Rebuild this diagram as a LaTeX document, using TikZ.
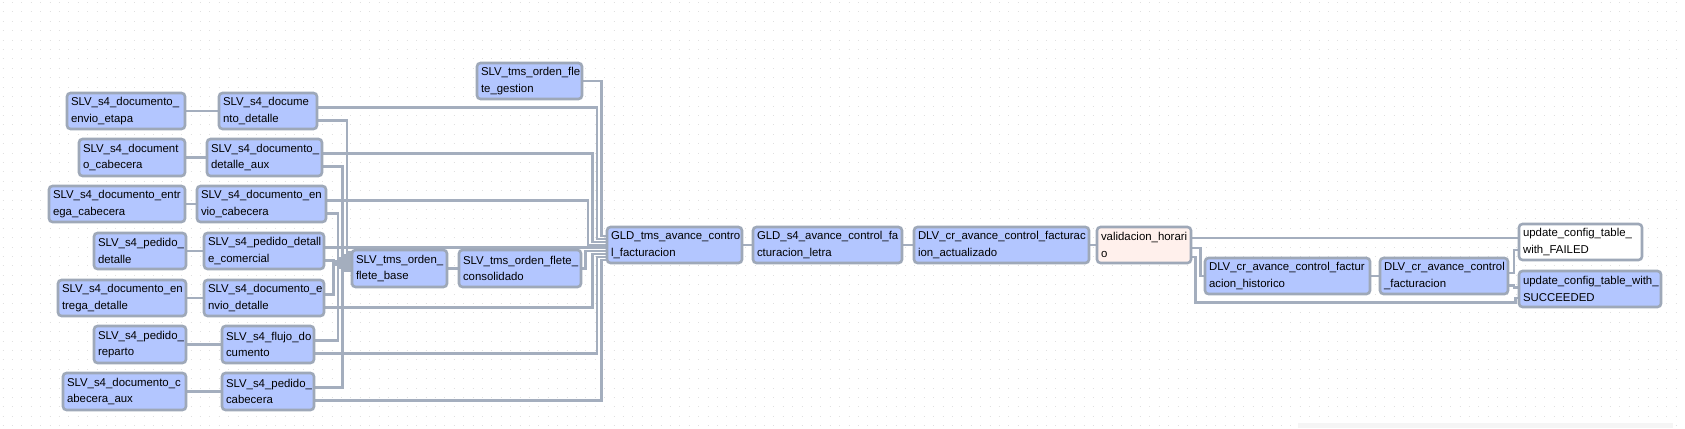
\documentclass[tikz,border=0pt]{standalone}
\usepackage{fontspec}
\setmainfont{Liberation Sans}
\usetikzlibrary{backgrounds}
\definecolor{boxblue}{RGB}{179,198,255}
\definecolor{boxpink}{RGB}{255,240,236}
\definecolor{boxborder}{RGB}{158,168,184}
\definecolor{edgecol}{RGB}{164,174,190}
\definecolor{dotcol}{RGB}{224,224,224}
\definecolor{barcol}{RGB}{245,245,245}
\hyphenpenalty=10000
\exhyphenpenalty=10000
\newcommand{\mkbox}[7][blk]{%
  \pgfmathsetmacro{\mkbw}{#5-#3}%
  \pgfmathsetmacro{\mkbh}{#6-#4}%
  \pgfmathsetmacro{\mktw}{#5-#3-8}%
  \node[#1, minimum width=\mkbw pt, minimum height=\mkbh pt, text width=\mktw pt, anchor=north west] (#2) at (#3,#4) {#7};%
}
\begin{document}
\begin{tikzpicture}[x=1pt,y=-1pt,
  blk/.style={draw=boxborder, line width=2.6pt, fill=boxblue, rounded corners=3.5pt,
    inner sep=0pt, outer sep=0pt, align=left,
    font=\fontsize{11.4}{16.5}\selectfont},
  pinkblk/.style={blk, fill=boxpink},
  whiteblk/.style={blk, fill=white},
  edge/.style={draw=edgecol, line width=2.1pt}]
\useasboundingbox (0,0) rectangle (1685,428);

% nodes
\mkbox{eet}{67}{93}{185}{129}{SLV\_s4\_documento\_\\envio\_etapa}
\mkbox{dd}{219}{93}{317}{129}{SLV\_s4\_docume\\nto\_detalle}
\mkbox{gest}{477}{63}{582}{99}{SLV\_tms\_orden\_fle\\te\_gestion}
\mkbox{dcab}{79}{139}{185}{176}{SLV\_s4\_document\\o\_cabecera}
\mkbox{aux}{207}{139}{322}{176}{SLV\_s4\_documento\_\\detalle\_aux}
\mkbox{ecab}{49}{186}{185}{222}{SLV\_s4\_documento\_entr\\ega\_cabecera}
\mkbox{envcab}{197}{186}{326}{222}{SLV\_s4\_documento\_en\\vio\_cabecera}
\mkbox{pdet}{94}{233}{186}{269}{SLV\_s4\_pedido\_\\detalle}
\mkbox{pdc}{204}{233}{324}{269}{SLV\_s4\_pedido\_detall\\e\_comercial}
\mkbox{edet}{58}{280}{186}{316}{SLV\_s4\_documento\_en\\trega\_detalle}
\mkbox{envdet}{204}{280}{324}{316}{SLV\_s4\_documento\_e\\nvio\_detalle}
\mkbox{prep}{94}{326}{186}{363}{SLV\_s4\_pedido\_\\reparto}
\mkbox{flujo}{222}{326}{314}{363}{SLV\_s4\_flujo\_do\\cumento}
\mkbox{cabaux}{63}{373}{186}{410}{SLV\_s4\_documento\_c\\abecera\_aux}
\mkbox{pedcab}{222}{373}{314}{410}{SLV\_s4\_pedido\_\\cabecera}
\mkbox{base}{352}{250}{447}{287}{SLV\_tms\_orden\_\\flete\_base}
\mkbox{cons}{459}{250}{581}{287}{SLV\_tms\_orden\_flete\_\\consolidado}
\mkbox{gld}{607}{227}{742}{263}{GLD\_tms\_avance\_contro\\l\_facturacion}
\mkbox{gldf}{753}{227}{902}{263}{GLD\_s4\_avance\_control\_fa\\cturacion\_letra}
\mkbox{act}{914}{227}{1089}{263}{DLV\_cr\_avance\_control\_facturac\\ion\_actualizado}
\mkbox[pinkblk]{val}{1097}{227}{1191}{263}{validacion\_horari\\o}
\mkbox{hist}{1205}{258}{1370}{294}{DLV\_cr\_avance\_control\_factur\\acion\_historico}
\mkbox{dcr}{1380}{258}{1508}{294}{DLV\_cr\_avance\_control\\\_facturacion}
\mkbox[whiteblk]{fail}{1519}{224}{1642}{260}{update\_config\_table\_\\with\_FAILED}
\mkbox{succ}{1519}{271}{1661}{307}{update\_config\_table\_with\_\\SUCCEEDED}

% ports
\coordinate (ddU) at ([yshift=-14.5pt]dd.north east);
\coordinate (ddL) at ([yshift=-27.5pt]dd.north east);
\coordinate (auxU) at ([yshift=-14.5pt]aux.north east);
\coordinate (auxL) at ([yshift=-27.5pt]aux.north east);
\coordinate (envcabU) at ([yshift=-14.5pt]envcab.north east);
\coordinate (envcabL) at ([yshift=-27.5pt]envcab.north east);
\coordinate (pdcU) at ([yshift=-14.5pt]pdc.north east);
\coordinate (pdcL) at ([yshift=-27.5pt]pdc.north east);
\coordinate (envdetU) at ([yshift=-14.5pt]envdet.north east);
\coordinate (envdetL) at ([yshift=-27.5pt]envdet.north east);
\coordinate (flujoU) at ([yshift=-14.5pt]flujo.north east);
\coordinate (flujoL) at ([yshift=-27.5pt]flujo.north east);
\coordinate (pedcabU) at ([yshift=-14.5pt]pedcab.north east);
\coordinate (pedcabL) at ([yshift=-27.5pt]pedcab.north east);
\coordinate (valA) at ([yshift=-11pt]val.north east);
\coordinate (valB) at ([yshift=-20.7pt]val.north east);
\coordinate (valC) at ([yshift=-29.7pt]val.north east);
\coordinate (dcrU) at ([yshift=-14.7pt]dcr.north east);
\coordinate (dcrL) at ([yshift=-27.5pt]dcr.north east);

\begin{scope}[on background layer]
\fill[white] (0,0) rectangle (1685,428);
\foreach \k in {0,...,45}
  \draw[dotcol, line width=1pt, dash pattern=on 1pt off 8.4pt] (2.5,{2.6+9.4*\k}) -- (1685,{2.6+9.4*\k});
\fill[barcol] (1298,423) rectangle (1673,428);

% first column pairs
\draw[edge] (eet.east) -- (dd.west);
\draw[edge] (dcab.east) -- (aux.west);
\draw[edge] (ecab.east) -- (envcab.west);
\draw[edge] (pdet.east) -- (pdc.west);
\draw[edge] (edet.east) -- (envdet.west);
\draw[edge] (prep.east) -- (flujo.west);
\draw[edge] (cabaux.east) -- (pedcab.west);

% into base
\draw[edge] (ddL) -| (347,252.5) -- (base.west |- 347,252.5);
\draw[edge] (auxL) -| (342.5,255.5) -- (base.west |- 342.5,255.5);
\draw[edge] (envcabL) -| (338,258.5) -- (base.west |- 338,258.5);
\draw[edge] (pdcL) -| (333.5,261.5) -- (base.west |- 333.5,261.5);
\draw[edge] (envdetU) -| (333.5,264.5) -- (base.west |- 333.5,264.5);
\draw[edge] (flujoU) -| (338,267.5) -- (base.west |- 338,267.5);
\draw[edge] (pedcabU) -| (342.5,270.5) -- (base.west |- 342.5,270.5);
\draw[edge] (base.east) -- (cons.west);

% into GLD
\draw[edge] (gest.east) -| (601.5,235.7) -- (gld.west |- 601.5,235.7);
\draw[edge] (ddU) -| (597,238.7) -- (gld.west |- 597,238.7);
\draw[edge] (auxU) -| (592.5,241.7) -- (gld.west |- 592.5,241.7);
\draw[edge] (envcabU) -| (588,244.7) -- (gld.west |- 588,244.7);
\draw[edge] (pdcU) -- (pdcU -| gld.west);
\draw[edge] (cons.east) -| (585.5,250.7) -- (gld.west |- 585.5,250.7);
\draw[edge] (envdetL) -| (592.5,253.7) -- (gld.west |- 592.5,253.7);
\draw[edge] (flujoL) -| (597,256.7) -- (gld.west |- 597,256.7);
\draw[edge] (pedcabL) -| (601.5,259.7) -- (gld.west |- 601.5,259.7);

% main chain
\draw[edge] (gld.east) -- (gldf.west);
\draw[edge] (gldf.east) -- (act.west);
\draw[edge] (act.east) -- (val.west);

% validacion branches
\draw[edge] (valA) -- (valA -| fail.west);
\draw[edge] (valB) -| (1200.5,276) -- (hist.west);
\draw[edge] (valC) -| (1195.5,302.5) -| (1515.5,298) -- (succ.west |- 1515.5,298);
\draw[edge] (hist.east) -- (dcr.west);
\draw[edge] (dcrU) -| (1514,250) -- (fail.west |- 1514,250);
\draw[edge] (dcrL) -| (1514,287.5) -- (succ.west |- 1514,287.5);
\end{scope}
\end{tikzpicture}
\end{document}
